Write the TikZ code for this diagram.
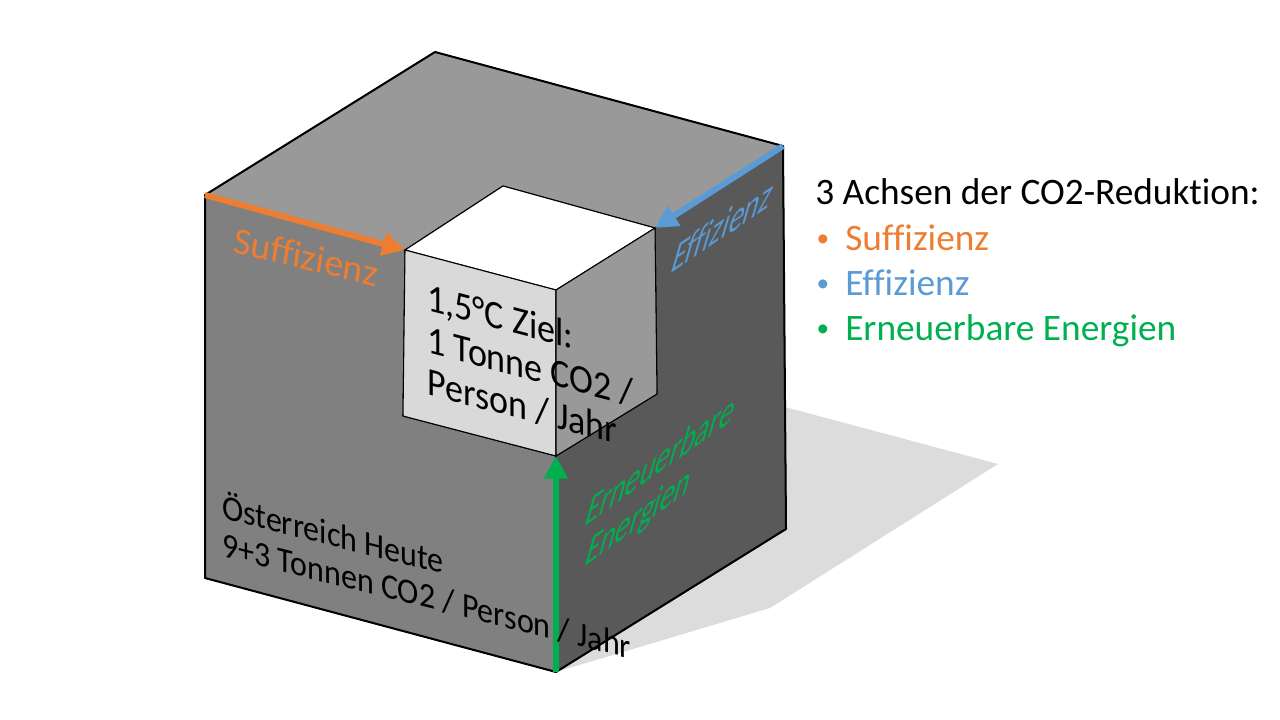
\documentclass[tikz,border=0pt]{standalone}
\usepackage{fontspec}
\setmainfont[Ligatures=NoCommon]{Carlito}
\newfontfamily\slantfont[FakeSlant=0.45, Ligatures=NoCommon]{Carlito}
\usetikzlibrary{arrows.meta}

\definecolor{suffcol}{HTML}{ED7D31}
\definecolor{efficol}{HTML}{5B9BD5}
\definecolor{erncol}{HTML}{00B050}
\definecolor{shadowgray}{HTML}{DCDCDC}
\definecolor{topgray}{HTML}{999999}
\definecolor{leftgray}{HTML}{808080}
\definecolor{rightgray}{HTML}{595959}
\definecolor{smallleft}{HTML}{D9D9D9}
\definecolor{smallright}{HTML}{999999}

\newcommand{\legendbullet}{\makebox[22.5pt][l]{\hspace{1pt}\raisebox{2.5pt}{\fontsize{19}{19}\selectfont •}}}

\begin{document}
\begin{tikzpicture}[x=0.75pt,y=0.75pt,
  face/.style={draw=black, line width=0.8pt, line join=round},
  axisarrow/.style={line width=4.5pt, -{Triangle[length=17pt,width=17pt]}},
  facetext/.style={inner sep=0pt, align=left},
  legend/.style={inner sep=0pt, anchor=base west, font=\fontsize{28}{33.75}\selectfont}]

\useasboundingbox (0,0) rectangle (1280,-720);

% big cube
\coordinate (back)   at (435,-52);
\coordinate (left)   at (205,-195);
\coordinate (right)  at (783,-146);
\coordinate (front)  at (556,-290);
\coordinate (leftb)  at (205,-578);
\coordinate (frontb) at (556,-672);
\coordinate (rightb) at (786,-529);
% small cube in the corner
\coordinate (sleft)   at (405,-250);
\coordinate (sback)   at (503,-186);
\coordinate (sright)  at (655,-228);
\coordinate (sleftb)  at (403,-416);
\coordinate (sfrontb) at (556,-456);
\coordinate (srightb) at (657,-394);

\fill[shadowgray] (785,-407) -- (998,-464) -- (770,-608) -- (frontb) -- (rightb) -- cycle;

\draw[face, fill=topgray]   (left) -- (back) -- (right) -- (sright) -- (sback) -- (sleft) -- cycle;
\draw[face, fill=leftgray]  (left) -- (sleft) -- (sleftb) -- (sfrontb) -- (frontb) -- (leftb) -- cycle;
\draw[face, fill=rightgray] (right) -- (rightb) -- (frontb) -- (sfrontb) -- (srightb) -- (sright) -- cycle;

\draw[face, fill=white]      (sleft) -- (sback) -- (sright) -- (front) -- cycle;
\draw[face, fill=smallleft]  (sleft) -- (front) -- (sfrontb) -- (sleftb) -- cycle;
\draw[face, fill=smallright] (front) -- (sright) -- (srightb) -- (sfrontb) -- cycle;

\draw[line width=1.5pt, line join=round] (left) -- (back) -- (right) -- (rightb) -- (frontb) -- (leftb) -- cycle;

\draw[axisarrow, suffcol] (left) -- (sleft);
\draw[axisarrow, efficol] (right) -- (sright);
\draw[axisarrow, erncol] (frontb) -- (sfrontb);

\node[facetext, anchor=base west, text=suffcol, cm={1,-0.24,0.15,1,(0,0)},
  font=\fontsize{28}{33}\selectfont] (sufftext) at (232,-252) {Suffizienz};
\node[facetext, anchor=base west, text=efficol, cm={0.97,0.66,0,1.2,(0,0)},
  font=\fontsize{23}{26}\slantfont] (effitext) at (669,-275) {Effizienz};
\node[facetext, anchor=north west, text=erncol, cm={0.95,0.68,0,1.2,(0,0)},
  font=\fontsize{23}{25}\slantfont] (erntext) at (583,-502) {Erneuerbare\\Energien};

\node[facetext, anchor=north west, cm={1,-0.26,0,1.1,(0,0)},
  font=\fontsize{27}{28.6}\selectfont] (goaltext) at (427,-283)
  {1,5°C Ziel:\\1 Tonne CO2 /\\Person / Jahr};
\node[facetext, anchor=north west, cm={1,-0.25,0,1.1,(0,0)},
  font=\fontsize{24}{26}\selectfont] (todaytext) at (222,-490)
  {Österreich Heute\\9+3 Tonnen CO2 / Person / Jahr};

\node[legend] (title) at (815,-205) {3 Achsen der CO2-Reduktion:};
\node[legend, text=suffcol] (suffitem) at (815,-250) {\legendbullet Suffizienz};
\node[legend, text=efficol] (effiitem) at (815,-295) {\legendbullet Effizienz};
\node[legend, text=erncol] (ernitem) at (815,-340) {\legendbullet Erneuerbare Energien};

\end{tikzpicture}
\end{document}
